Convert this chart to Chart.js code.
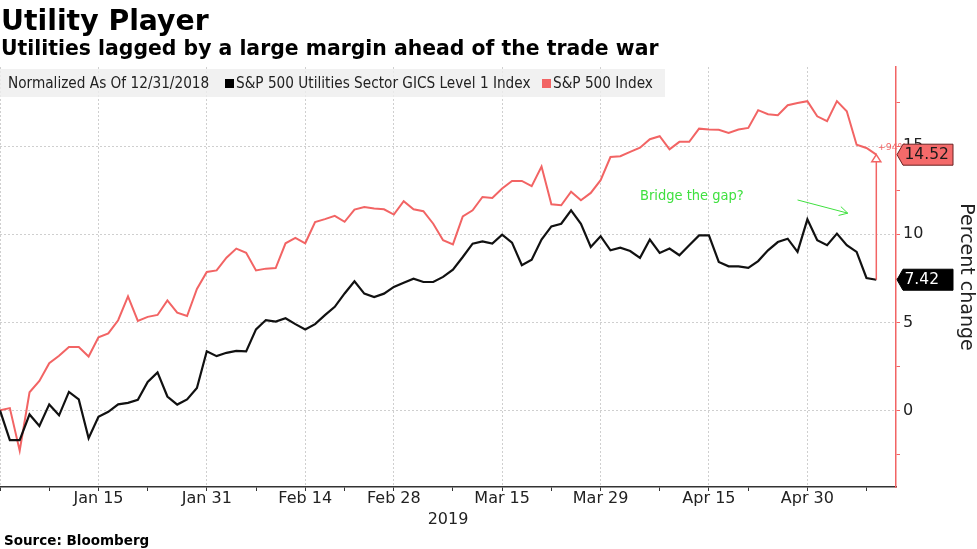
<!DOCTYPE html>
<html><head><meta charset="utf-8">
<script src="https://cdn.jsdelivr.net/npm/chart.js@4.4.1/dist/chart.umd.min.js"></script>
<style>
html,body{margin:0;padding:0;background:#fff;}
#wrap{position:relative;width:977px;height:549px;overflow:hidden;font-family:"DejaVu Sans",sans-serif;}
#c{position:absolute;left:0;top:0;}
.t{position:absolute;white-space:nowrap;line-height:1;color:#000;font-weight:bold;}
#title{left:1px;top:7px;font-size:28.3px;}
#sub{left:1px;top:38px;font-size:20.4px;}
#src{left:4px;top:534px;font-size:13.5px;}
#legend{position:absolute;left:0;top:69px;width:665px;height:28px;background:rgba(238,238,238,0.8);font-family:"DejaVu Sans Condensed","DejaVu Sans",sans-serif;font-size:15.2px;color:#222;}
#legend span{position:absolute;top:0;line-height:28px;white-space:nowrap;}
#legend i{position:absolute;top:10px;width:9px;height:9px;}
</style></head>
<body>
<div id="wrap">
<canvas id="c" width="977" height="549"></canvas>
<div class="t" id="title">Utility Player</div>
<div class="t" id="sub">Utilities lagged by a large margin ahead of the trade war</div>
<div id="legend">
  <span style="left:8px">Normalized As Of 12/31/2018</span>
  <i style="left:225px;background:#000"></i>
  <span style="left:236px">S&amp;P 500 Utilities Sector GICS Level 1 Index</span>
  <i style="left:542px;background:#f26464"></i>
  <span style="left:553px">S&amp;P 500 Index</span>
</div>
<div class="t" id="src">Source: Bloomberg</div>
</div>
<script>
// ---- data ----
const dates = [
 '2018-12-31',
 '2019-01-02','2019-01-03','2019-01-04','2019-01-07','2019-01-08','2019-01-09','2019-01-10','2019-01-11','2019-01-14','2019-01-15',
 '2019-01-16','2019-01-17','2019-01-18','2019-01-22','2019-01-23','2019-01-24','2019-01-25','2019-01-28','2019-01-29','2019-01-30','2019-01-31',
 '2019-02-01','2019-02-04','2019-02-05','2019-02-06','2019-02-07','2019-02-08','2019-02-11','2019-02-12','2019-02-13','2019-02-14',
 '2019-02-15','2019-02-19','2019-02-20','2019-02-21','2019-02-22','2019-02-25','2019-02-26','2019-02-27','2019-02-28',
 '2019-03-01','2019-03-04','2019-03-05','2019-03-06','2019-03-07','2019-03-08','2019-03-11','2019-03-12','2019-03-13','2019-03-14','2019-03-15',
 '2019-03-18','2019-03-19','2019-03-20','2019-03-21','2019-03-22','2019-03-25','2019-03-26','2019-03-27','2019-03-28','2019-03-29',
 '2019-04-01','2019-04-02','2019-04-03','2019-04-04','2019-04-05','2019-04-08','2019-04-09','2019-04-10','2019-04-11','2019-04-12','2019-04-15',
 '2019-04-16','2019-04-17','2019-04-18','2019-04-22','2019-04-23','2019-04-24','2019-04-25','2019-04-26','2019-04-29','2019-04-30',
 '2019-05-01','2019-05-02','2019-05-03','2019-05-06','2019-05-07','2019-05-08','2019-05-09'
];
const utilities = [
 0, -1.69, -1.69, -0.23, -0.88, 0.34, -0.28, 1.05, 0.62, -1.58, -0.36,
 -0.08, 0.34, 0.43, 0.60, 1.61, 2.16, 0.79, 0.33, 0.62, 1.27, 3.36,
 3.08, 3.27, 3.38, 3.35, 4.60, 5.13, 5.04, 5.23, 4.90, 4.60,
 4.90, 5.41, 5.88, 6.64, 7.33, 6.63, 6.44, 6.63, 7.01,
 7.25, 7.48, 7.29, 7.29, 7.58, 7.99, 8.71, 9.47, 9.60, 9.47, 9.98,
 9.53, 8.24, 8.56, 9.70, 10.45, 10.60, 11.36, 10.60, 9.28, 9.89,
 9.09, 9.24, 9.05, 8.66, 9.70, 8.94, 9.19, 8.81, 9.38, 9.94, 9.94,
 8.43, 8.18, 8.18, 8.09, 8.48, 9.09, 9.56, 9.75, 9.00, 10.85,
 9.66, 9.38, 10.04, 9.38, 9.00, 7.52, 7.42
];
const sp500 = [
 0, 0.13, -2.29, 1.03, 1.67, 2.68, 3.10, 3.60, 3.60, 3.06, 4.15,
 4.37, 5.12, 6.47, 5.08, 5.31, 5.42, 6.25, 5.55, 5.36, 6.90, 7.86,
 7.95, 8.67, 9.19, 8.95, 7.95, 8.05, 8.08, 9.49, 9.79, 9.49,
 10.70, 10.86, 11.05, 10.71, 11.40, 11.55, 11.46, 11.42, 11.12,
 11.88, 11.42, 11.31, 10.60, 9.66, 9.43, 11.02, 11.36, 12.12, 12.06, 12.60,
 13.03, 13.03, 12.73, 13.85, 11.70, 11.65, 12.42, 11.93, 12.35, 13.07,
 14.39, 14.43, 14.68, 14.92, 15.40, 15.57, 14.83, 15.25, 15.25, 16.00, 15.95,
 15.93, 15.76, 15.95, 16.04, 17.05, 16.82, 16.76, 17.33, 17.46, 17.56,
 16.70, 16.42, 17.56, 16.99, 15.09, 14.90, 14.52
];
const majorTickDates = ['2019-01-15','2019-01-31','2019-02-14','2019-02-28','2019-03-15','2019-03-29','2019-04-15','2019-04-30'];
const minorTickDates = ['2018-12-31','2019-01-08','2019-01-23','2019-02-07','2019-02-21','2019-03-08','2019-03-22','2019-04-08','2019-04-22','2019-05-08'];
const yTickValues = [-2.5, 0, 2.5, 5, 7.5, 10, 12.5, 15, 17.5];
const yearLabel = '2019';
const yTitle = 'Percent change';
const gapLabel = '+94%';
const noteText = 'Bridge the gap?';

// ---- styling / annotation anchors (data units) ----
const RED = '#f26464';
const GREEN = '#3fe03f';
const notePos = {x: 65, y: 11.96};
const noteArrow = {x1: 81, y1: 11.95, x2: 86.1, y2: 11.2};

const MON = ['Jan','Feb','Mar','Apr','May','Jun','Jul','Aug','Sep','Oct','Nov','Dec'];
const fmt = d => { const p = d.split('-'); return MON[+p[1]-1] + ' ' + (+p[2]); };
const majorIdx = majorTickDates.map(d => dates.indexOf(d));
const minorIdx = minorTickDates.map(d => dates.indexOf(d));
const allX = majorIdx.concat(minorIdx).sort((a,b)=>a-b);

function tag(ctx, xl, yc, fill, stroke, tcol, text){
  const h = 21, w = 56, tip = 6;
  ctx.beginPath();
  ctx.moveTo(xl, yc);
  ctx.lineTo(xl+tip, yc-h/2);
  ctx.lineTo(xl+w, yc-h/2);
  ctx.lineTo(xl+w, yc+h/2);
  ctx.lineTo(xl+tip, yc+h/2);
  ctx.closePath();
  ctx.fillStyle = fill; ctx.fill();
  ctx.lineWidth = 1; ctx.strokeStyle = stroke; ctx.stroke();
  ctx.fillStyle = tcol;
  ctx.font = '15.5px "DejaVu Sans"';
  ctx.textAlign = 'left'; ctx.textBaseline = 'middle';
  ctx.fillText(text, xl+7.5, yc+0.5);
}

const annot = {
  id: 'annot',
  afterDatasetsDraw(chart){
    const {ctx, scales:{x, y}} = chart;
    const li = dates.length - 1;
    const px = x.getPixelForValue(li);
    const yR = y.getPixelForValue(sp500[li]);
    const yB = y.getPixelForValue(utilities[li]);
    ctx.save();
    ctx.strokeStyle = RED; ctx.lineWidth = 1.5;
    ctx.beginPath(); ctx.moveTo(px, yB); ctx.lineTo(px, yR+7); ctx.stroke();
    ctx.beginPath(); ctx.moveTo(px, yR); ctx.lineTo(px-4.5, yR+7); ctx.lineTo(px+4.5, yR+7); ctx.closePath();
    ctx.fillStyle = '#fff'; ctx.fill(); ctx.stroke();
    ctx.fillStyle = RED; ctx.font = '9.5px "DejaVu Sans"'; ctx.textAlign = 'left'; ctx.textBaseline = 'alphabetic';
    ctx.fillText(gapLabel, px+1.5, yR-4.5);
    // note
    ctx.fillStyle = GREEN; ctx.font = '14.5px "DejaVu Sans Condensed", "DejaVu Sans"';
    ctx.fillText(noteText, x.getPixelForValue(notePos.x), y.getPixelForValue(notePos.y));
    const ax1 = x.getPixelForValue(noteArrow.x1), ay1 = y.getPixelForValue(noteArrow.y1);
    const ax2 = x.getPixelForValue(noteArrow.x2), ay2 = y.getPixelForValue(noteArrow.y2);
    const ang = Math.atan2(ay2-ay1, ax2-ax1), L = 9.5, spread = 0.5;
    ctx.strokeStyle = GREEN; ctx.lineWidth = 1;
    ctx.beginPath();
    ctx.moveTo(ax1, ay1); ctx.lineTo(ax2, ay2);
    ctx.moveTo(ax2 - L*Math.cos(ang-spread), ay2 - L*Math.sin(ang-spread));
    ctx.lineTo(ax2, ay2);
    ctx.lineTo(ax2 - L*Math.cos(ang+spread), ay2 - L*Math.sin(ang+spread));
    ctx.stroke();
    ctx.restore();
  },
  afterDraw(chart){
    const {ctx, scales:{y}} = chart;
    const li = dates.length - 1;
    ctx.save();
    tag(ctx, y.left+1, y.getPixelForValue(sp500[li]), '#f46a6a', '#6b2222', '#1a1a1a', sp500[li].toFixed(2));
    tag(ctx, y.left+1, y.getPixelForValue(utilities[li]), '#000', '#000', '#fff', utilities[li].toFixed(2));
    ctx.restore();
  }
};

const tickFont = {family: 'DejaVu Sans', size: 16, lineHeight: 1};

new Chart(document.getElementById('c').getContext('2d'), {
  type: 'line',
  data: {
    datasets: [
      {label: 'S&P 500 Utilities Sector GICS Level 1 Index', data: utilities.map((v,i)=>({x:i, y:v})),
       borderColor: '#111', borderWidth: 2.2, pointRadius: 0, tension: 0, fill: false},
      {label: 'S&P 500 Index', data: sp500.map((v,i)=>({x:i, y:v})),
       borderColor: RED, borderWidth: 2, pointRadius: 0, tension: 0, fill: false}
    ]
  },
  options: {
    responsive: false, animation: false, devicePixelRatio: 1,
    layout: {padding: {top: 67, left: 0, right: 0, bottom: 0}},
    plugins: {legend: {display: false}, tooltip: {enabled: false}, title: {display: false}},
    scales: {
      x: {
        type: 'linear', position: 'bottom', min: 0, max: dates.length + 1,
        afterBuildTicks: s => { s.ticks = allX.map(v => ({value: v})); },
        afterFit: s => { s.height = 62; },
        ticks: {autoSkip: false, maxRotation: 0, padding: 0, color: '#222', font: tickFont,
          callback: v => majorIdx.includes(v) ? fmt(dates[v]) : ''},
        grid: {color: c => (c.tick && (majorIdx.includes(c.tick.value) || c.tick.value === 0)) ? '#cfcfcf' : 'rgba(0,0,0,0)',
          tickColor: '#333', tickLength: 4, lineWidth: 1, tickBorderDash: [], tickWidth: 1},
        border: {display: true, color: '#333', width: 1.5, dash: [2, 2]},
        title: {display: true, text: yearLabel, color: '#222', font: {family: 'DejaVu Sans', size: 16}, padding: {top: 0, bottom: 20}}
      },
      y: {
        position: 'right', min: -4.35, max: 19.5,
        afterBuildTicks: s => { s.ticks = yTickValues.map(v => ({value: v})); },
        afterFit: s => { s.width = 81; },
        ticks: {padding: 3, color: '#222', font: tickFont, callback: v => (v % 5 === 0) ? String(v) : ''},
        grid: {color: c => (c.tick && c.tick.value % 5 === 0) ? '#cfcfcf' : 'rgba(0,0,0,0)',
          tickColor: RED, tickLength: 4, lineWidth: 1, tickBorderDash: [], tickWidth: 1},
        border: {display: true, color: RED, width: 1.5, dash: [2, 2]},
        title: {display: true, text: yTitle, color: '#222', font: {family: 'DejaVu Sans', size: 19}, padding: 0}
      }
    }
  },
  plugins: [annot]
});
</script>
</body></html>
